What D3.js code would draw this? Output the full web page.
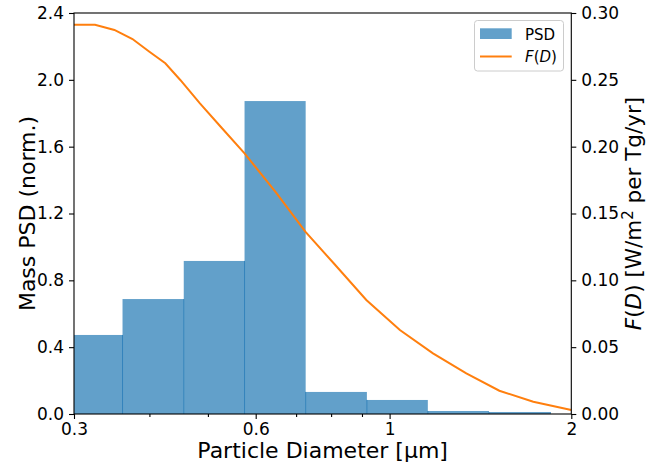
<!DOCTYPE html>
<html><head><meta charset="utf-8">
<script src="https://cdn.jsdelivr.net/npm/d3@7"></script>
<style>
body{margin:0;background:#fff;}
text{font-family:"DejaVu Sans",sans-serif;fill:#000;}
</style></head>
<body>
<svg id="chart" width="648" height="465"></svg>
<script>
// ---- data ----
const binEdges = [0.286, 0.361, 0.456, 0.575, 0.726, 0.917, 1.157, 1.461, 1.851];
const psdValues = [0.473, 0.688, 0.916, 1.873, 0.132, 0.084, 0.018, 0.012];
const fdDiam = [0.30, 0.325, 0.35, 0.375, 0.40, 0.425, 0.45, 0.485, 0.525, 0.575, 0.65, 0.725, 0.81, 0.915, 1.04, 1.18, 1.34, 1.52, 1.73, 2.0];
const fdValues = [0.2913, 0.2912, 0.2873, 0.2805, 0.2710, 0.2624, 0.2499, 0.2324, 0.2149, 0.1950, 0.1651, 0.1364, 0.1122, 0.0853, 0.0628, 0.0454, 0.0304, 0.0174, 0.0092, 0.0030];
const xMajorTicks = [0.3, 0.6, 1, 2];
const xMajorLabels = ["0.3", "0.6", "1", "2"];
const xMinorTicks = [0.4, 0.5, 0.7, 0.8, 0.9];
const yLeftTicks = [0, 0.4, 0.8, 1.2, 1.6, 2.0, 2.4];
const yRightTicks = [0, 0.05, 0.10, 0.15, 0.20, 0.25, 0.30];

const L = 74, R = 571.3, T = 13, B = 414;
const svg = d3.select("#chart");
const x = d3.scaleLog().domain([0.3, 2]).range([L, R]);
const yL = d3.scaleLinear().domain([0, 2.4]).range([B, T]);
const yR = d3.scaleLinear().domain([0, 0.3]).range([B, T]);

svg.append("defs").append("clipPath").attr("id", "clip")
  .append("rect").attr("x", L).attr("y", T).attr("width", R - L).attr("height", B - T);

const plot = svg.append("g").attr("clip-path", "url(#clip)");
const bars = psdValues.map((v, i) => ({x0: binEdges[i], x1: binEdges[i + 1], v}));
plot.selectAll("rect.bar").data(bars).enter().append("rect")
  .attr("class", "bar")
  .attr("x", d => x(d.x0)).attr("width", d => x(d.x1) - x(d.x0))
  .attr("y", d => yL(d.v)).attr("height", d => yL(0) - yL(d.v))
  .attr("fill", "#1f77b4").attr("fill-opacity", 0.7);
// overlapping edges between adjacent bars
plot.selectAll("line.div").data(bars.slice(1)).enter().append("line")
  .attr("x1", d => x(d.x0)).attr("x2", d => x(d.x0))
  .attr("y1", yL(0)).attr("y2", (d, i) => yL(Math.min(d.v, bars[i].v)))
  .attr("stroke", "#3383bb").attr("stroke-width", 1);

const line = d3.line().x((d, i) => x(fdDiam[i])).y(d => yR(d));
plot.append("path").datum(fdValues).attr("d", line)
  .attr("fill", "none").attr("stroke", "#ff7f0e").attr("stroke-width", 2);

// axes
const fs = "17px";
const gx = svg.append("g").attr("transform", `translate(0,${B})`)
  .call(d3.axisBottom(x).tickValues(xMajorTicks).tickSize(5).tickPadding(4)
    .tickFormat((d, i) => xMajorLabels[i]));
const gxm = svg.append("g").attr("transform", `translate(0,${B})`)
  .call(d3.axisBottom(x).tickValues(xMinorTicks).tickSize(3).tickFormat(""));
const gl = svg.append("g").attr("transform", `translate(${L},0)`)
  .call(d3.axisLeft(yL).tickValues(yLeftTicks).tickSize(5).tickPadding(5).tickFormat(d3.format(".1f")));
const gr = svg.append("g").attr("transform", `translate(${R},0)`)
  .call(d3.axisRight(yR).tickValues(yRightTicks).tickSize(5).tickPadding(5).tickFormat(d3.format(".2f")));
[gx, gxm, gl, gr].forEach(g => {
  g.select(".domain").remove();
  g.selectAll("line").attr("stroke", "#000").attr("stroke-width", 1.1);
  g.selectAll("text").style("font-size", fs).attr("font-family", "DejaVu Sans");
});
// frame
svg.append("rect").attr("x", L).attr("y", T).attr("width", R - L).attr("height", B - T)
  .attr("fill", "none").attr("stroke", "#000").attr("stroke-width", 1.1);

// axis labels
svg.append("text").attr("x", (L + R) / 2).attr("y", 458).attr("text-anchor", "middle")
  .style("font-size", "22px").text("Particle Diameter [μm]");
svg.append("text").attr("transform", `translate(35,${(T + B) / 2}) rotate(-90)`)
  .attr("text-anchor", "middle").style("font-size", "22px").text("Mass PSD (norm.)");
const rl = svg.append("text").attr("transform", `translate(641,${(T + B) / 2}) rotate(-90)`)
  .attr("text-anchor", "middle").style("font-size", "21.5px");
rl.append("tspan").attr("font-style", "italic").text("F");
rl.append("tspan").text("(");
rl.append("tspan").attr("font-style", "italic").text("D");
rl.append("tspan").text(") [W/m");
rl.append("tspan").attr("dy", -8).style("font-size", "15px").text("2");
rl.append("tspan").attr("dy", 8).text(" per Tg/yr]");

// legend
const lg = svg.append("g");
lg.append("rect").attr("x", 474.5).attr("y", 20.5).attr("width", 89).attr("height", 50.5)
  .attr("rx", 3).attr("fill", "#fff").attr("fill-opacity", 0.8).attr("stroke", "#cccccc");
lg.append("rect").attr("x", 480).attr("y", 28.3).attr("width", 31.7).attr("height", 10.7)
  .attr("fill", "#1f77b4").attr("fill-opacity", 0.7);
lg.append("line").attr("x1", 480).attr("x2", 511.7).attr("y1", 56.5).attr("y2", 56.5)
  .attr("stroke", "#ff7f0e").attr("stroke-width", 2);
lg.append("text").attr("x", 525).attr("y", 39.5).style("font-size", "15px").text("PSD");
const lt = lg.append("text").attr("x", 525).attr("y", 62).style("font-size", "15px");
lt.append("tspan").attr("font-style", "italic").text("F");
lt.append("tspan").text("(");
lt.append("tspan").attr("font-style", "italic").text("D");
lt.append("tspan").text(")");
</script>
</body></html>
